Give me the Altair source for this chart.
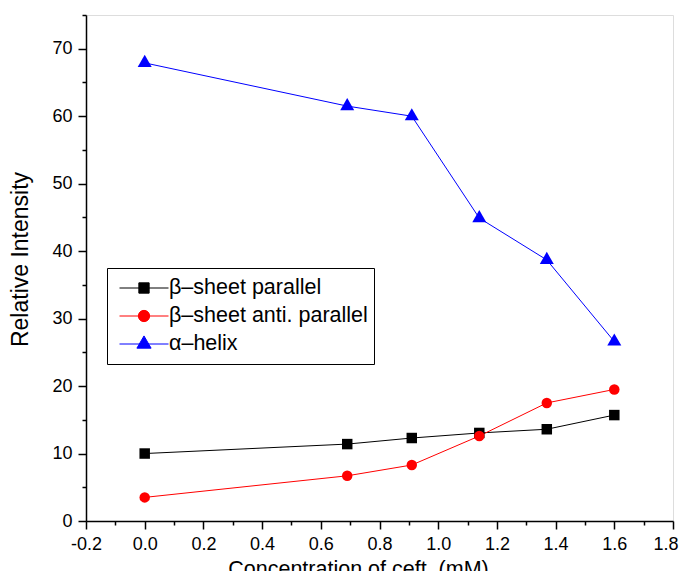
import altair as alt
import pandas as pd

# ---- data ----
conc = [0.0, 0.69, 0.91, 1.14, 1.37, 1.6]
beta_parallel = [10.0, 11.4, 12.3, 13.05, 13.6, 15.7]
beta_anti_parallel = [3.5, 6.7, 8.3, 12.6, 17.5, 19.5]
alpha_helix = [67.9, 61.5, 60.0, 44.9, 38.7, 26.6]

series_names = ["β–sheet parallel", "β–sheet anti. parallel", "α–helix"]
colors = ["#000000", "#FF0000", "#0000FF"]

x_major = [round(-0.2 + 0.2 * i, 1) for i in range(11)]
x_minor = [round(-0.1 + 0.2 * i, 1) for i in range(10)]
y_major = [0, 10, 20, 30, 40, 50, 60, 70]
y_minor = [5, 15, 25, 35, 45, 55, 65, 75]

rows = []
for name, vals in zip(series_names, [beta_parallel, beta_anti_parallel, alpha_helix]):
    for xv, yv in zip(conc, vals):
        rows.append({"x": xv, "y": yv, "series": name})
df = pd.DataFrame(rows)

FONT = "Liberation Sans"

xscale = alt.Scale(domain=[-0.2, 1.8], nice=False, zero=False)
yscale = alt.Scale(domain=[0, 75], nice=False, zero=False)
col_scale = alt.Scale(domain=series_names, range=colors)

x_axis_major = alt.Axis(
    values=x_major, tickSize=8, tickWidth=1.5, tickColor="black",
    domainColor="black", domainWidth=1.5, grid=False,
    labelExpr="datum.value < 0 ? '-' + format(abs(datum.value), '.1f') : format(datum.value, '.1f')",
    labelFont=FONT, labelFontSize=18, labelColor="black", labelPadding=6,
    labelFlush=False, labelOverlap=False,
    labelAlign={"condition": {"test": "datum.value > 1.75", "value": "right"}, "value": "center"},
    labelOffset={"condition": {"test": "datum.value > 1.75", "value": 5}, "value": 0},
    title="Concentration of ceft. (mM)", titleFont=FONT, titleFontSize=21.5,
    titleFontWeight="normal", titleColor="black", titlePadding=5, orient="bottom",
    titleX=272,
)
y_axis_major = alt.Axis(
    values=y_major, tickSize=8, tickWidth=1.5, tickColor="black",
    domainColor="black", domainWidth=1.5, grid=False, format="d",
    labelFont=FONT, labelFontSize=18, labelColor="black", labelPadding=6,
    labelOverlap=False,
    title="Relative Intensity", titleFont=FONT, titleFontSize=23,
    titleFontWeight="normal", titleColor="black", titlePadding=19, orient="left",
    titleY=244,
)
x_axis_minor = alt.Axis(values=x_minor, tickSize=4, tickWidth=1.5, tickColor="black",
                        domain=False, labels=False, grid=False, title=None, orient="bottom")
y_axis_minor = alt.Axis(values=y_minor, tickSize=4, tickWidth=1.5, tickColor="black",
                        domain=False, labels=False, grid=False, title=None, orient="left")

base = alt.Chart(df)

lines = base.mark_line(strokeWidth=1).encode(
    x=alt.X("x:Q", scale=xscale, axis=x_axis_major),
    y=alt.Y("y:Q", scale=yscale, axis=y_axis_major),
    color=alt.Color("series:N", scale=col_scale, legend=None),
    detail="series:N",
)

tri_path = "M0,-1.15L1,0.58L-1,0.58Z"
marker_shapes = ["square", "circle", tri_path]
marker_sizes = [110, 110, 196]

point_layers = []
for name, colr, shp, sz in zip(series_names, colors, marker_shapes, marker_sizes):
    point_layers.append(
        base.transform_filter(alt.datum.series == name)
        .mark_point(filled=True, opacity=1, shape=shp, size=sz, color=colr)
        .encode(
            x=alt.X("x:Q", scale=xscale, axis=None),
            y=alt.Y("y:Q", scale=yscale, axis=None),
        )
    )

minor = base.transform_filter("false").mark_point(opacity=0).encode(
    x=alt.X("x:Q", scale=xscale, axis=x_axis_minor),
    y=alt.Y("y:Q", scale=yscale, axis=y_axis_minor),
)

legend_paths = [
    "M-1,0H1M-0.21,-0.21H0.21V0.21H-0.21Z",
    "M-1,0H1M-0.23,0A0.23,0.23,0,1,1,0.23,0A0.23,0.23,0,1,1,-0.23,0Z",
    "M-1,0H1M0,-0.33L0.29,0.17L-0.29,0.17Z",
]
leg = alt.Legend(
    title=None, orient="none", legendX=21, legendY=253, direction="vertical",
    symbolSize=2401, clipHeight=28, rowPadding=0, padding=6, symbolOffset=6,
    labelOffset=0, labelLimit=400, labelFont=FONT, labelFontSize=21.5, labelColor="black",
    strokeColor="black", fillColor="white", symbolStrokeWidth=1, symbolOpacity=1,
    symbolFillColor="#000000", symbolStrokeColor="#000000",
)
legend_layer = base.transform_filter("false").mark_point(filled=True, opacity=1, strokeWidth=1).encode(
    x=alt.X("x:Q", scale=xscale, axis=None),
    y=alt.Y("y:Q", scale=yscale, axis=None),
    fill=alt.Fill("series:N", scale=col_scale, legend=leg),
    stroke=alt.Stroke("series:N", scale=col_scale, legend=leg),
    shape=alt.Shape("series:N", scale=alt.Scale(domain=series_names, range=legend_paths), legend=leg),
)

chart = alt.layer(lines, *point_layers, minor, legend_layer).resolve_scale(
    fill="independent", stroke="independent", shape="independent"
).resolve_axis(
    x="independent", y="independent"
).properties(
    width=587, height=506,
    autosize=alt.AutoSizeParams(type="none"),
    padding={"left": 78, "top": 7, "right": 6, "bottom": 50},
).configure_view(stroke=None).configure(background="white")

chart.save("out.html", embed_options={"renderer": "svg", "actions": False})
